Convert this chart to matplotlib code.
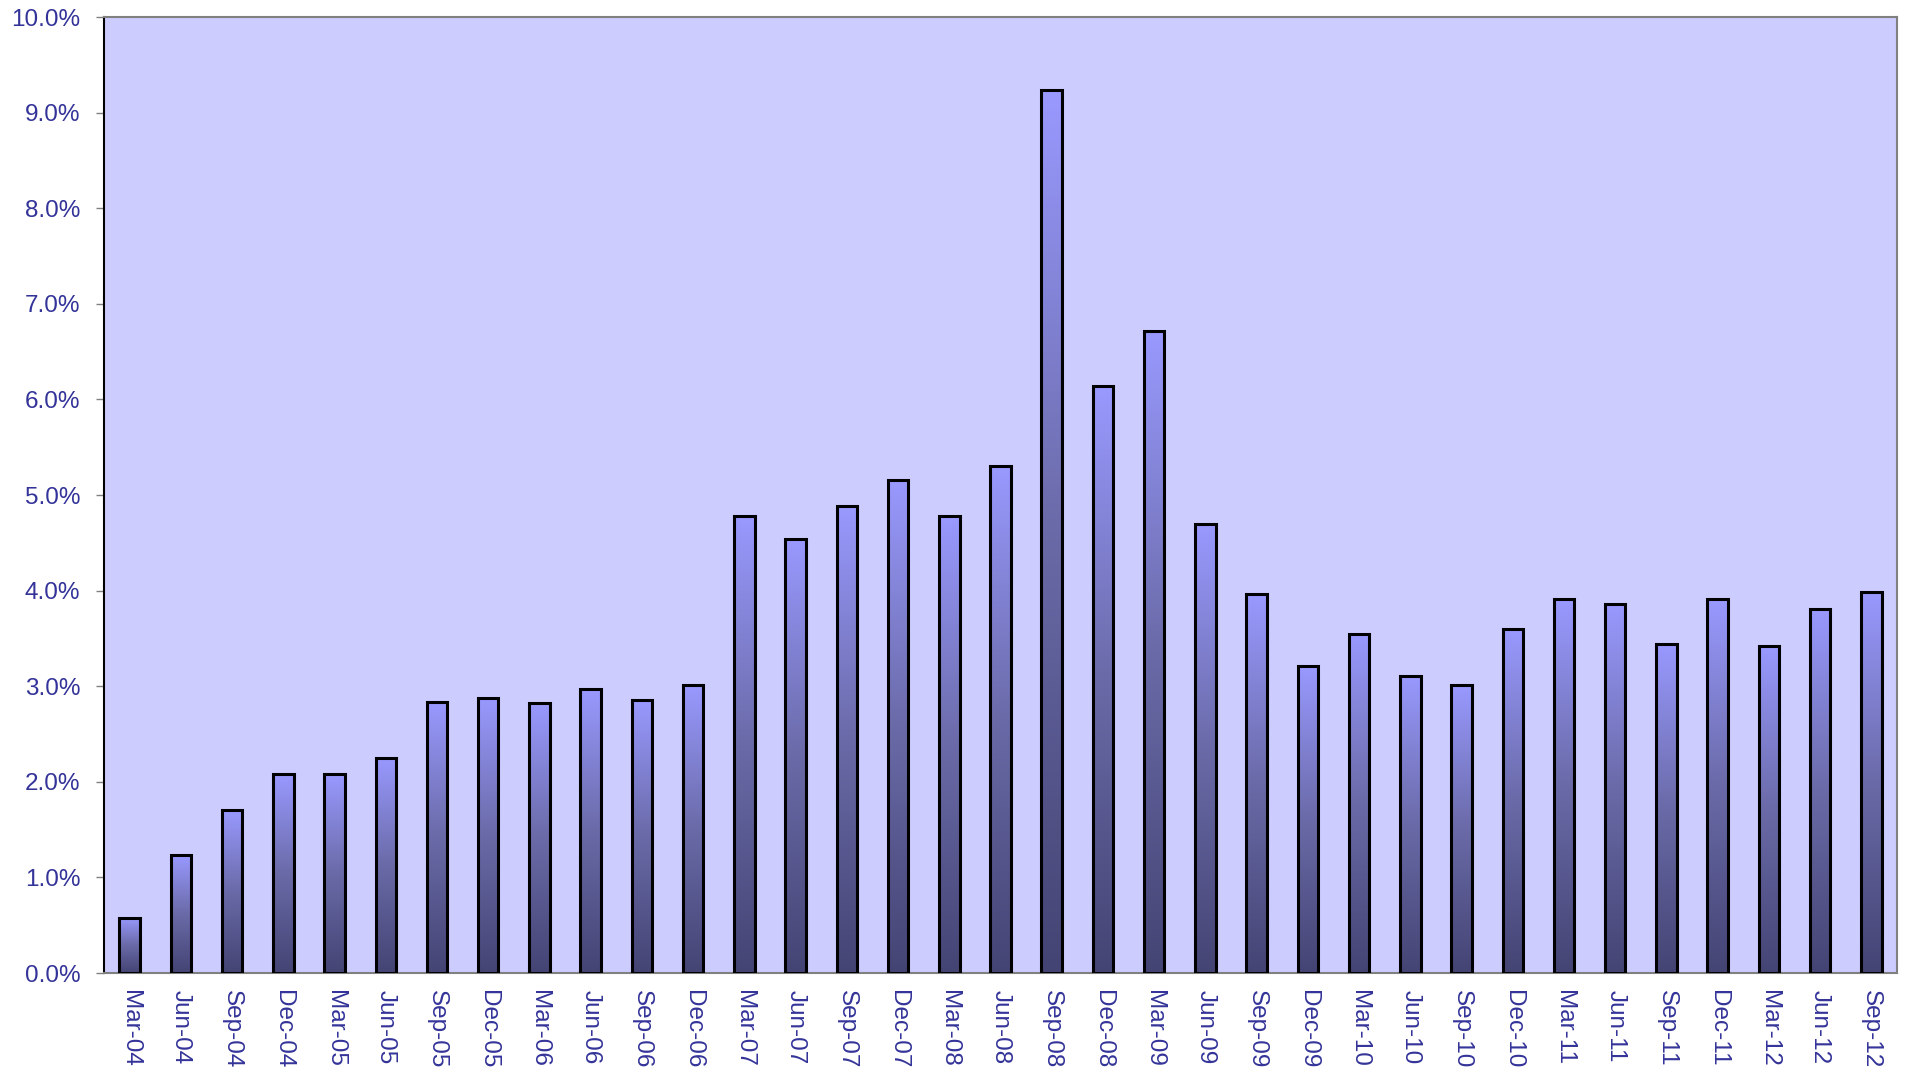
import numpy as np
import matplotlib
matplotlib.use('Agg')
import matplotlib.pyplot as plt
from matplotlib.colors import LinearSegmentedColormap
from matplotlib.ticker import FuncFormatter, MultipleLocator

quarters = ['Mar-04', 'Jun-04', 'Sep-04', 'Dec-04', 'Mar-05', 'Jun-05', 'Sep-05', 'Dec-05',
            'Mar-06', 'Jun-06', 'Sep-06', 'Dec-06', 'Mar-07', 'Jun-07', 'Sep-07', 'Dec-07',
            'Mar-08', 'Jun-08', 'Sep-08', 'Dec-08', 'Mar-09', 'Jun-09', 'Sep-09', 'Dec-09',
            'Mar-10', 'Jun-10', 'Sep-10', 'Dec-10', 'Mar-11', 'Jun-11', 'Sep-11', 'Dec-11',
            'Mar-12', 'Jun-12', 'Sep-12']
values = [0.58, 1.23, 1.70, 2.08, 2.08, 2.25, 2.83, 2.88,
          2.82, 2.97, 2.86, 3.01, 4.78, 4.54, 4.89, 5.16,
          4.78, 5.30, 9.24, 6.14, 6.72, 4.70, 3.96, 3.21,
          3.55, 3.11, 3.01, 3.60, 3.91, 3.86, 3.44, 3.91,
          3.42, 3.81, 3.99]

txt = '#333399'
plt.rcParams['font.family'] = ['Liberation Sans', 'DejaVu Sans']

fig = plt.figure(figsize=(19.05, 10.71), dpi=100)
ax = fig.add_axes([0.0546, 0.0915, 0.9412, 0.8926])
ax.set_facecolor('#ccccff')

x = np.arange(len(values))
bars = ax.bar(x, values, width=0.4, facecolor='none', edgecolor='black', linewidth=2.2, zorder=3)

# vertical gradient inside each bar, light at top, dark at bottom
cmap = LinearSegmentedColormap.from_list('g', ['#444474', '#6a6aa8', '#9999ff'])
grad = np.linspace(0, 1, 256).reshape(-1, 1)
for b in bars:
    x0 = b.get_x()
    w = b.get_width()
    h = b.get_height()
    im = ax.imshow(grad, cmap=cmap, origin='lower', aspect='auto',
                   extent=[x0, x0 + w, 0, h], zorder=2, interpolation='bicubic')
    im.set_clip_path(b)

ax.set_xlim(-0.5, len(values) - 0.5)
ax.set_ylim(0, 10)
ax.yaxis.set_major_locator(MultipleLocator(1))
ax.yaxis.set_major_formatter(FuncFormatter(lambda v, p: f'{v:.1f}%'))

ax.set_xticks(x)
ax.set_xticklabels(quarters, rotation=-90, va='top', ha='center')
ax.tick_params(axis='x', length=0, pad=12, labelsize=17.5, labelcolor=txt)
ax.tick_params(axis='y', length=6, width=1, color='#808080', pad=11, labelsize=17.5, labelcolor=txt)

ax.spines['left'].set_color('black')
ax.spines['left'].set_linewidth(1.5)
for s in ['top', 'right', 'bottom']:
    ax.spines[s].set_color('#808080')
    ax.spines[s].set_linewidth(1.5)

plt.savefig('out.png', dpi=100)
